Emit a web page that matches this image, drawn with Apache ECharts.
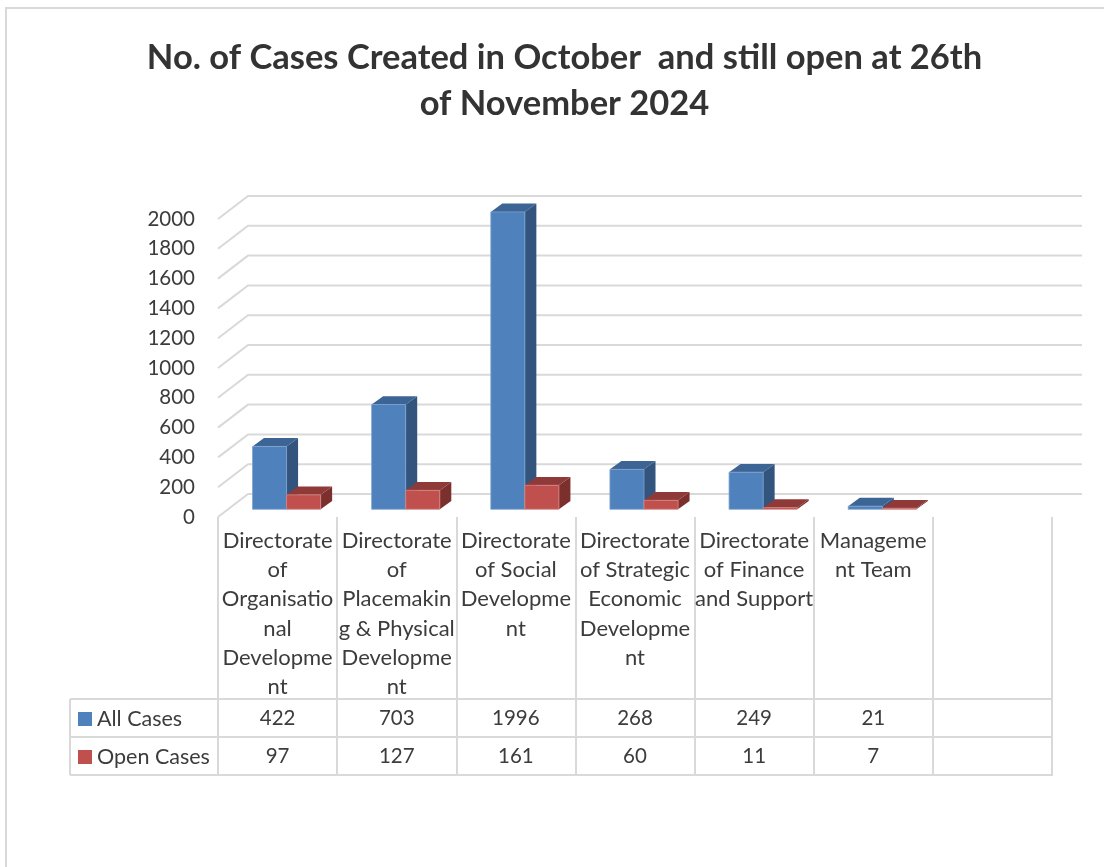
<!DOCTYPE html>
<html>
<head>
<meta charset="utf-8">
<title>Cases</title>
<style>
  html, body { margin: 0; padding: 0; background: #fff; }
  #chart { width: 1104px; height: 867px; }
</style>
<script src="https://cdn.jsdelivr.net/npm/echarts@6/dist/echarts.min.js"></script>
</head>
<body>
<div id="chart"></div>
<script>
const titleText = "No. of Cases Created in October  and still open at 26th\nof November 2024";
const categories = [
    "Directorate\nof\nOrganisatio\nnal\nDevelopme\nnt",
    "Directorate\nof\nPlacemakin\ng & Physical\nDevelopme\nnt",
    "Directorate\nof Social\nDevelopme\nnt",
    "Directorate\nof Strategic\nEconomic\nDevelopme\nnt",
    "Directorate\nof Finance\nand Support",
    "Manageme\nnt Team",
    ""
];
const allCases = [422, 703, 1996, 268, 249, 21];
const openCases = [97, 127, 161, 60, 11, 7];
const yTicks = [0, 200, 400, 600, 800, 1000, 1200, 1400, 1600, 1800, 2000];

const GRID_COLOR = "#d9d9d9";
const TEXT_COLOR = "#3c3c3c";
const FONT = "Lato";
const NUM_SIZE = 20.5;
const TEXT_SIZE = 22;
const LINE_W = 2;

// wall lines: slanted bit on the left, then across the back wall
function renderWallLine(params, api) {
    const y = api.coord([0, api.value(1)])[1];
    const x0 = params.coordSys.x;
    const x1 = x0 + params.coordSys.width;
    return {
        type: "polyline",
        shape: { points: [[x0, y], [x0 + 30, y - 23], [x1 + 30, y - 23]] },
        style: { stroke: GRID_COLOR, lineWidth: LINE_W, fill: null }
    };
}

// one fake 3d box, seriesSide: 0 = left of the band, 1 = right of it
function boxRenderer(seriesSide, colors) {
    return function (params, api) {
        const band = api.size([1, 0])[0];
        const w = band * 0.286;
        const top = api.coord([api.value(0), api.value(1)]);
        const bottom = api.coord([api.value(0), 0]);
        const left = top[0] + 9 + (seriesSide - 1) * w;
        const right = left + w;
        const yT = top[1] - 7.7;
        const yB = bottom[1] - 7.7;
        const dx = 11.5, dy = 8.3;
        return {
            type: "group",
            children: [
                {
                    type: "polygon",
                    shape: { points: [[right, yT], [right + dx, yT - dy], [right + dx, yB - dy], [right, yB]] },
                    style: { fill: colors.side }
                },
                {
                    type: "polygon",
                    shape: { points: [[left, yT], [left + dx, yT - dy], [right + dx, yT - dy], [right, yT]] },
                    style: { fill: colors.top }
                },
                {
                    type: "rect",
                    shape: { x: left, y: yT, width: w, height: yB - yT },
                    style: { fill: colors.front, stroke: colors.edge, lineWidth: 0.8 }
                }
            ]
        };
    };
}

// value text inside the data table
function tableRenderer(y) {
    return function (params, api) {
        return {
            type: "text",
            x: api.coord([api.value(0), 0])[0],
            y: y,
            style: {
                text: String(api.value(1)),
                fill: TEXT_COLOR,
                font: NUM_SIZE + "px " + FONT,
                align: "center",
                verticalAlign: "middle"
            }
        };
    };
}

function tableLine(x1, y1, x2, y2) {
    return {
        type: "line",
        shape: { x1: x1, y1: y1, x2: x2, y2: y2 },
        style: { stroke: GRID_COLOR, lineWidth: LINE_W }
    };
}

const chart = echarts.init(document.getElementById("chart"));
chart.setOption({
    animation: false,
    backgroundColor: "#fff",
    title: {
        text: titleText,
        left: 559.5,
        top: 30,
        textAlign: "center",
        textStyle: { fontFamily: FONT, fontSize: 34.5, fontWeight: "bold", color: "#333", lineHeight: 46 }
    },
    legend: {
        orient: "vertical",
        left: 73,
        top: 703,
        itemWidth: 14,
        itemHeight: 14,
        itemGap: 16,
        icon: "rect",
        data: ["All Cases", "Open Cases"],
        textStyle: { fontFamily: FONT, fontSize: 21.5, color: TEXT_COLOR, lineHeight: 20 }
    },
    grid: { left: 218, right: 52, top: 219, bottom: 350 },
    xAxis: {
        type: "category",
        data: categories,
        axisLine: { show: false },
        axisTick: { show: true, length: 259, lineStyle: { color: GRID_COLOR, width: LINE_W } },
        axisLabel: {
            interval: 0,
            margin: 9,
            verticalAlign: "top",
            fontFamily: FONT,
            fontSize: TEXT_SIZE,
            lineHeight: 29.3,
            color: TEXT_COLOR
        }
    },
    yAxis: {
        type: "value",
        min: 0,
        max: 2000,
        interval: 200,
        axisLine: { show: false },
        axisTick: { show: false },
        splitLine: { show: false },
        axisLabel: {
            margin: 23,
            fontFamily: FONT,
            fontSize: NUM_SIZE,
            color: TEXT_COLOR,
            formatter: (v) => String(v)
        }
    },
    graphic: [
        {
            type: "polyline",
            shape: { points: [[6, 867], [6, 8], [1104, 8]] },
            style: { stroke: GRID_COLOR, lineWidth: LINE_W, fill: null }
        },
        tableLine(70, 699, 1052, 699),
        tableLine(70, 737, 1052, 737),
        tableLine(70, 775, 1052, 775),
        tableLine(70, 699, 70, 775)
    ],
    series: [
        {
            type: "custom",
            silent: true,
            z: 1,
            renderItem: renderWallLine,
            data: yTicks.map((v) => [0, v])
        },
        {
            type: "custom",
            name: "All Cases",
            z: 2,
            itemStyle: { color: "#4f81bd" },
            renderItem: boxRenderer(0, { front: "#4f81bd", top: "#3c6494", side: "#32547d", edge: "#7ea3d0" }),
            data: allCases.map((v, i) => [i, v])
        },
        {
            type: "custom",
            name: "Open Cases",
            z: 3,
            itemStyle: { color: "#c0504d" },
            renderItem: boxRenderer(1, { front: "#c0504d", top: "#8f3a38", side: "#7c302e", edge: "#d58683" }),
            data: openCases.map((v, i) => [i, v])
        },
        {
            type: "custom",
            silent: true,
            z: 4,
            renderItem: tableRenderer(718),
            data: allCases.map((v, i) => [i, v])
        },
        {
            type: "custom",
            silent: true,
            z: 4,
            renderItem: tableRenderer(756),
            data: openCases.map((v, i) => [i, v])
        }
    ]
});
</script>
</body>
</html>
